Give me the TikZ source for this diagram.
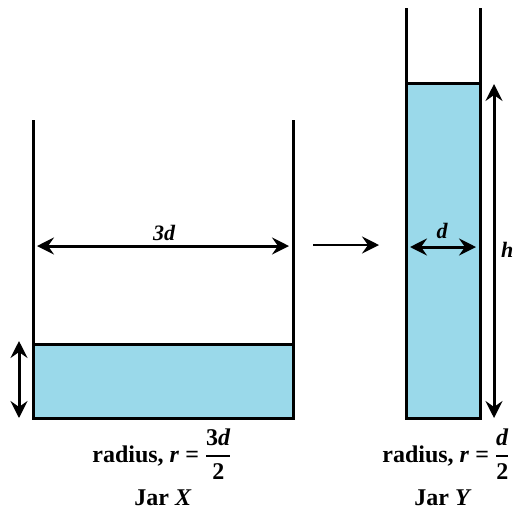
\documentclass[tikz,border=0pt]{standalone}
\usepackage{fontspec}
\usepackage{amsmath}
\setmainfont{Liberation Serif}
\usetikzlibrary{arrows.meta,positioning}
\definecolor{waterBlue}{RGB}{154,217,234}

\tikzset{
  tipY/.tip={Stealth[length=17pt,width=17pt,inset=6pt]},
  wall/.style={draw=black,line width=3pt},
  dimarrow/.style={tipY-tipY,line width=3pt},
  flowarrow/.style={-tipY,line width=2.6pt},
  dimlabel/.style={font=\fontsize{22}{26}\selectfont\bfseries\itshape,inner sep=1pt},
  caption/.style={font=\fontsize{24}{28}\selectfont\bfseries,inner sep=1pt}
}

\begin{document}
\begin{tikzpicture}[x=1pt,y=-1pt]
    \useasboundingbox (0,0) rectangle (513,512);

    % ════════ JAR X (lado esquerdo) ════════
    \fill[waterBlue] (33,344) rectangle (293,418);
    \draw[wall] (33,120) -- (33,418) -- (293,418) -- (293,120);
    \draw[wall] (33,344) -- (293,344);
    % cotas
    \coordinate (xL) at (37,246);
    \coordinate (xR) at (289,246);
    \draw[dimarrow] (xL) -- (xR);
    \node[dimlabel] (lblX) at (164,233){3d};
    \coordinate (hxT) at (19,341);
    \coordinate (hxB) at (19,418);
    \draw[dimarrow] (hxT) -- (hxB);
    % legendas
    \node[caption] (radX) at (162,454)
      {radius, \textit{r} = \(\genfrac{}{}{2pt}{0}{\text{3\textit{d}}}{\text{2}}\)};
    \node[caption] (nameX) at (163,498){Jar \textit{X}};

    % ════════ JAR Y (lado direito) ════════
    \fill[waterBlue] (406,83) rectangle (480,418);
    \draw[wall] (406,8) -- (406,418) -- (480,418) -- (480,8);
    \draw[wall] (406,83) -- (480,83);
    % cotas
    \coordinate (yL) at (410,247);
    \coordinate (yR) at (476,247);
    \draw[dimarrow] (yL) -- (yR);
    \node[dimlabel] (lblY) at (442,231){d};
    \coordinate (hyT) at (494,84);
    \coordinate (hyB) at (494,418);
    \draw[dimarrow] (hyT) -- (hyB);
    \node[dimlabel,anchor=west] (lblH) at (500,250){h};
    % legendas
    \node[caption] (radY) at (446,454)
      {radius, \textit{r} = \(\genfrac{}{}{2pt}{0}{\text{\textit{d}}}{\text{2}}\)};
    \node[caption] (nameY) at (443,498){Jar \textit{Y}};

    % seta de transferencia
    \coordinate (fromX) at (313,245);
    \coordinate (toY) at (379,245);
    \draw[flowarrow] (fromX) -- (toY);

  \end{tikzpicture}
\end{document}
